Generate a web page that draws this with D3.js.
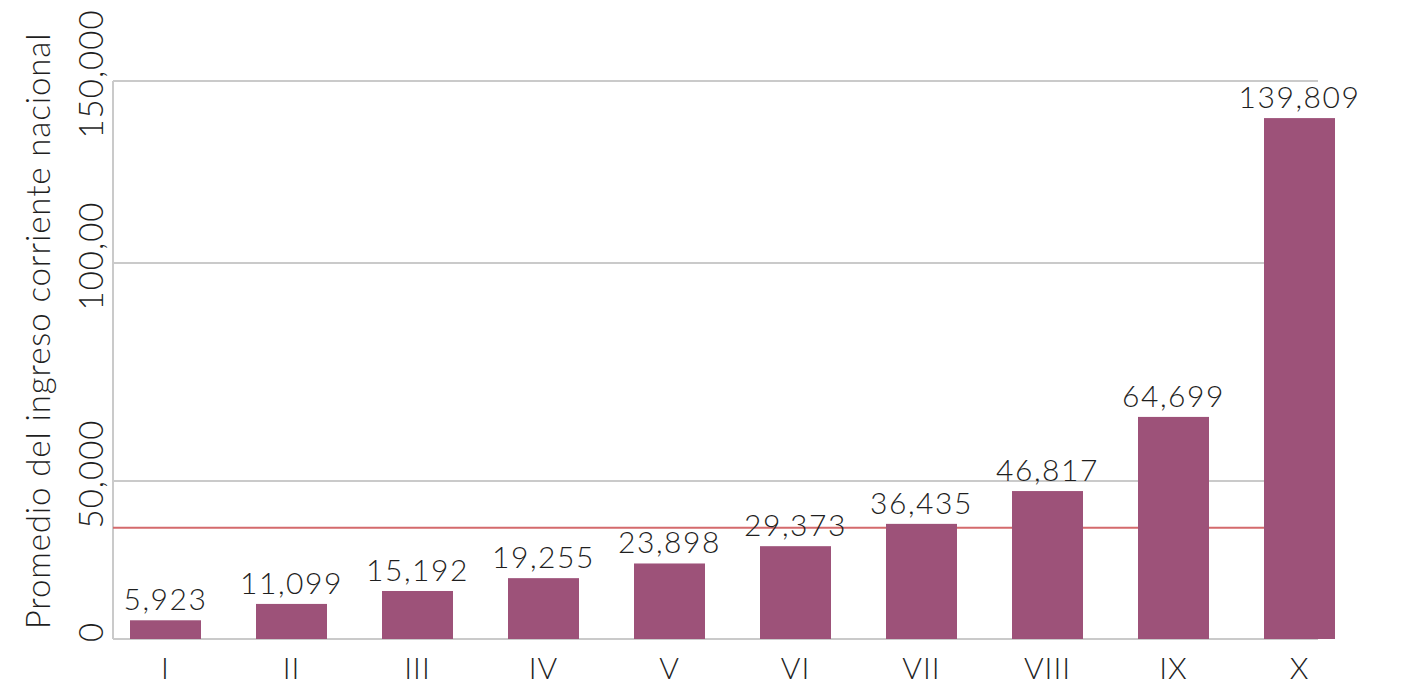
<!DOCTYPE html>
<head>
<meta charset="utf-8">
<script src="https://d3js.org/d3.v7.min.js"></script>
<style>
body { margin:0; background:#fff; }
text { font-family: "Lato", "Open Sans", sans-serif; font-weight: 300; fill: #1f1f1f; }
</style>
</head>
<body>
<script>

// deciles de hogares y su ingreso corriente promedio
var categories = ["I", "II", "III", "IV", "V", "VI", "VII", "VIII", "IX", "X"];
var values = [5923, 11099, 15192, 19255, 23898, 29373, 36435, 46817, 64699, 139809];
var yTicks = [0, 50000, 100000, 150000];
var yTickLabels = ["0", "50,000", "100,00", "150,000"];
var refValue = 35200; // linea roja
var yTitle = "Promedio del ingreso corriente nacional";

var width = 1415,
  height = 686,
  left = 113,
  right = 1318;

var svg = d3.select("body").append("svg")
  .attr("width", width)
  .attr("height", height);

// the original axis is not evenly spaced, so one segment per tick
var y = d3.scaleLinear()
  .domain(yTicks)
  .range([639, 481, 263, 81]);

var x = d3.scaleBand()
  .domain(categories)
  .range([130, 1335])
  .paddingInner(0.4365)
  .paddingOuter(0);

var fmt = d3.format(",");

// gridlines
svg.append("g")
  .selectAll("line")
  .data(yTicks)
  .enter().append("line")
  .attr("x1", left)
  .attr("x2", right)
  .attr("y1", function(d) { return y(d); })
  .attr("y2", function(d) { return y(d); })
  .style("stroke", "#cacaca")
  .style("stroke-width", 2);

svg.append("line")
  .attr("x1", left).attr("x2", left)
  .attr("y1", y(yTicks[yTicks.length - 1])).attr("y2", y(0))
  .style("stroke", "#cacaca")
  .style("stroke-width", 2);

// red reference line
svg.append("line")
  .attr("x1", left)
  .attr("x2", right)
  .attr("y1", y(refValue))
  .attr("y2", y(refValue))
  .style("stroke", "#d46a6c")
  .style("stroke-width", 1.8);

// bars
svg.append("g")
  .selectAll("rect")
  .data(values)
  .enter().append("rect")
  .attr("x", function(d, i) { return x(categories[i]); })
  .attr("y", function(d) { return y(d); })
  .attr("width", x.bandwidth())
  .attr("height", function(d) { return y(0) - y(d); })
  .style("fill", "#9d5279");

// value labels
svg.append("g")
  .selectAll("text")
  .data(values)
  .enter().append("text")
  .attr("x", function(d, i) { return x(categories[i]) + x.bandwidth() / 2; })
  .attr("y", function(d) { return y(d) - 10; })
  .attr("text-anchor", "middle")
  .style("font-size", "30px")
  .style("letter-spacing", "1.6px")
  .text(function(d) { return fmt(d); });

// category labels
svg.append("g")
  .selectAll("text")
  .data(categories)
  .enter().append("text")
  .attr("x", function(d) { return x(d) + x.bandwidth() / 2; })
  .attr("y", 679)
  .attr("text-anchor", "middle")
  .style("font-size", "30px")
  .style("letter-spacing", "1px")
  .text(function(d) { return d; });

// y tick labels, rotated
svg.append("g")
  .selectAll("text")
  .data(yTicks)
  .enter().append("text")
  .attr("transform", function(d) { return "translate(103," + (y(d) - 7) + ") rotate(-90)"; })
  .attr("text-anchor", "middle")
  .style("font-size", "33px")
  .style("letter-spacing", "1px")
  .text(function(d, i) { return yTickLabels[i]; });

// y title
svg.append("text")
  .attr("transform", "translate(50,331) rotate(-90)")
  .attr("text-anchor", "middle")
  .style("font-size", "33px")
  .style("letter-spacing", "0.9px")
  .text(yTitle);

</script>
</body>
